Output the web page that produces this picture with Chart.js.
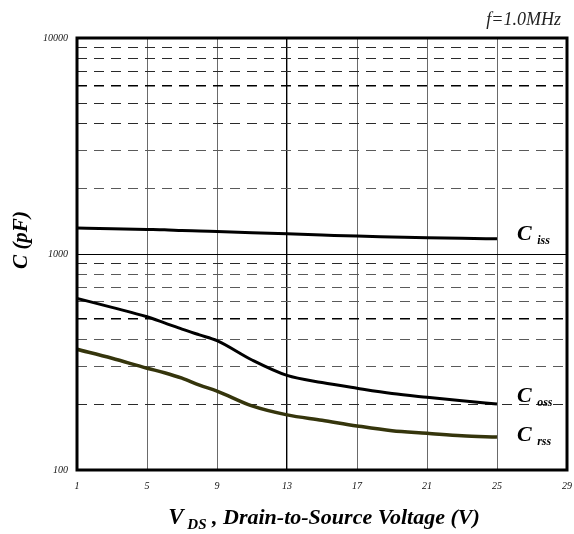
<!DOCTYPE html>
<html>
<head>
<meta charset="utf-8">
<script src="https://cdn.jsdelivr.net/npm/chart.js@4/dist/chart.umd.min.js"></script>
<style>
  html, body { margin: 0; padding: 0; background: #ffffff; }
  #wrap { width: 574px; height: 534px; position: relative; }
</style>
</head>
<body>
<div id="wrap"><canvas id="c" width="574" height="534"></canvas></div>
<script>
// Drain-to-source voltage samples (V)
const vds = [1, 3, 5, 6, 7, 8, 9, 11, 13, 15, 17, 19, 21, 23, 25];
// Capacitances (pF) at f = 1.0 MHz
const ciss = [1320, 1310, 1300, 1295, 1285, 1278, 1270, 1255, 1240, 1225, 1210, 1200, 1190, 1182, 1175];
const coss = [623, 566, 512, 480, 449, 422, 397, 323, 274, 254, 239, 226, 217, 209, 202];
const crss = [362, 329, 296, 282, 266, 247, 232, 198, 180, 170, 160, 152, 148, 144, 142];

// Axis ticks
const xTicks = [1, 5, 9, 13, 17, 21, 25, 29];
const yTicks = [100, 200, 300, 400, 500, 600, 700, 800, 900,
                1000, 2000, 3000, 4000, 5000, 6000, 7000, 8000, 9000, 10000];
const yLabelled = [100, 1000, 10000];

const seriesNames = ['C', 'C', 'C'];
const seriesSubs = ['iss', 'oss', 'rss'];

const serif = '"Liberation Serif", "DejaVu Serif", serif';

function pts(ys) { return vds.map((v, i) => ({ x: v, y: ys[i] })); }

// Frame, curve labels, axis titles and frequency note
const annotate = {
  id: 'annotate',
  afterDraw(chart) {
    const { ctx, chartArea: a, scales } = chart;
    const xs = scales.x, ys = scales.y;
    ctx.save();
    // heavy plot frame
    ctx.strokeStyle = '#000';
    ctx.lineWidth = 3;
    ctx.strokeRect(a.left, a.top, a.right - a.left, a.bottom - a.top);

    // curve labels at the right end of each curve
    const ends = [ciss, coss, crss];
    const dy = [-5, -8, -2];
    ctx.fillStyle = '#000';
    ctx.textBaseline = 'alphabetic';
    ends.forEach((arr, i) => {
      const px = xs.getPixelForValue(vds[vds.length - 1]) + 20;
      const py = ys.getPixelForValue(arr[arr.length - 1]) + 6 + dy[i];
      ctx.font = 'bold italic 22px ' + serif;
      ctx.textAlign = 'left';
      ctx.fillText(seriesNames[i], px, py);
      const w = ctx.measureText(seriesNames[i] + ' ').width;
      ctx.font = 'bold italic 12px ' + serif;
      ctx.fillText(seriesSubs[i], px + w, py + 4);
    });

    // frequency note
    ctx.font = 'italic 18px ' + serif;
    ctx.textAlign = 'right';
    ctx.fillStyle = '#222';
    ctx.fillText('f=1.0MHz', a.right - 6, 25);

    // y axis title
    ctx.save();
    ctx.translate(27, (a.top + a.bottom) / 2 - 14);
    ctx.rotate(-Math.PI / 2);
    ctx.font = 'bold italic 21px ' + serif;
    ctx.textAlign = 'center';
    ctx.fillStyle = '#000';
    ctx.fillText('C (pF)', 0, 0);
    ctx.restore();

    // x axis title with subscript
    const parts = [
      { t: 'V', f: 'bold italic 23px ' + serif, d: 0 },
      { t: ' DS', f: 'bold italic 15px ' + serif, d: 5 },
      { t: ' , Drain-to-Source Voltage (V)', f: 'bold italic 22px ' + serif, d: 0 }
    ];
    let total = 0;
    parts.forEach(p => { ctx.font = p.f; total += ctx.measureText(p.t).width; });
    let cx = (a.left + a.right) / 2 - total / 2 + 2;
    const base = 524;
    ctx.textAlign = 'left';
    ctx.fillStyle = '#000';
    parts.forEach(p => {
      ctx.font = p.f;
      ctx.fillText(p.t, cx, base + p.d);
      cx += ctx.measureText(p.t).width;
    });
    ctx.restore();
  }
};

function yGridColor(ctx) {
  const v = ctx.tick && ctx.tick.value;
  if (v === 1000 || v === 500 || v === 6000) return '#000';
  if (v === 2000 || v === 3000 || v === 300 || v === 400 || v === 600 || v === 700 || v === 800) return '#5a5a5a';
  return '#2a2a2a';
}
function yGridDash(ctx) {
  const v = ctx.tick && ctx.tick.value;
  if (v === undefined || v === 1000 || v === 100 || v === 10000) return [];
  return [10, 7];
}

new Chart(document.getElementById('c'), {
  type: 'line',
  data: {
    datasets: [
      { label: 'Ciss', data: pts(ciss), borderColor: '#000', borderWidth: 3 },
      { label: 'Coss', data: pts(coss), borderColor: '#000', borderWidth: 3 },
      { label: 'Crss', data: pts(crss), borderColor: '#35350c', borderWidth: 3.5 }
    ]
  },
  options: {
    responsive: false,
    animation: false,
    devicePixelRatio: 1,
    layout: { padding: { top: 38, right: 7, left: 0, bottom: 0 } },
    elements: {
      point: { radius: 0 },
      line: { tension: 0.4, cubicInterpolationMode: 'monotone', fill: false }
    },
    plugins: { legend: { display: false }, tooltip: { enabled: false } },
    scales: {
      x: {
        type: 'linear',
        min: 1, max: 29,
        afterBuildTicks: s => { s.ticks = xTicks.map(v => ({ value: v })); },
        afterFit: s => { s.height = 64; s.paddingLeft = 0; s.paddingRight = 0; },
        ticks: {
          padding: 10,
          color: '#111',
          font: { family: serif, style: 'italic', size: 10 },
          maxRotation: 0
        },
        grid: {
          drawTicks: false,
          color: ctx => (ctx.tick && ctx.tick.value === 13) ? '#000' : '#6a6a6a',
          lineWidth: ctx => (ctx.tick && ctx.tick.value === 13) ? 1.4 : 1
        },
        border: { display: false }
      },
      y: {
        type: 'logarithmic',
        min: 100, max: 10000,
        afterBuildTicks: s => { s.ticks = yTicks.map(v => ({ value: v })); },
        afterFit: s => { s.width = 77; s.paddingTop = 0; s.paddingBottom = 0; },
        ticks: {
          padding: 9,
          color: '#111',
          autoSkip: false,
          font: { family: serif, style: 'italic', size: 10 },
          callback: v => yLabelled.includes(v) ? String(v) : ''
        },
        grid: {
          drawTicks: false,
          color: yGridColor,
          lineWidth: ctx => (ctx.tick && (ctx.tick.value === 500 || ctx.tick.value === 6000)) ? 1.6 : 1
        },
        border: { display: false, dash: yGridDash }
      }
    }
  },
  plugins: [annotate]
});
</script>
</body>
</html>
